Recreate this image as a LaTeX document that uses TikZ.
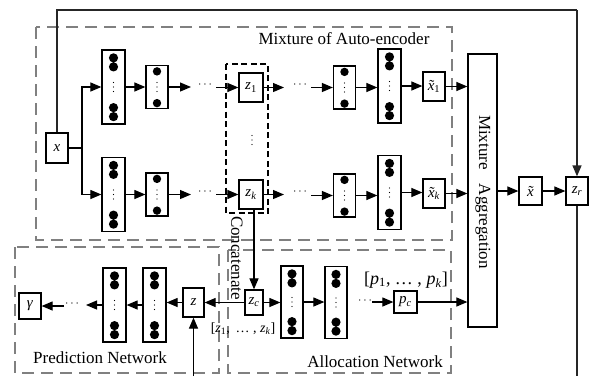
\documentclass[tikz,border=0pt]{standalone}
\usepackage{fontspec}
\setmainfont{Liberation Serif}
\usetikzlibrary{arrows.meta}
\newcommand{\vdt}[1]{\fill (#1) ++(0,-4.5) circle (0.7pt) (#1) circle (0.7pt) (#1) ++(0,4.5) circle (0.7pt);}
\newcommand{\bigdots}[1]{\fill ([yshift=-8.5pt]#1.north) circle (4.6pt) ([yshift=-17.5pt]#1.north) circle (4.6pt) ([yshift=8pt]#1.south) circle (4.6pt) ([yshift=17pt]#1.south) circle (4.6pt); \vdt{#1}}
\newcommand{\smalldots}[1]{\fill ([yshift=-6.5pt]#1.north) circle (4.2pt) ([yshift=6pt]#1.south) circle (4.2pt); \vdt{#1}}
\newcommand{\iv}[1]{\textit{#1}}
\newcommand{\sbs}[1]{\textsubscript{#1}}
\newcommand{\tx}{\makebox[0pt][l]{\kern0.1em\char"02DC}\iv{x}}
\begin{document}
\begin{tikzpicture}[x=1pt,y=-1pt,
 box/.style={draw, line width=1.25pt, inner sep=0pt, fill=white},
 big/.style={box, minimum width=23pt, minimum height=74pt},
 small/.style={box, minimum width=22pt, minimum height=43pt},
 lbox/.style={box, minimum width=23pt, minimum height=29pt, font=\fontsize{15}{15}\selectfont},
 arr/.style={line width=1.2pt, -{Triangle[length=11pt,width=9pt]}},
 ln/.style={line width=1.2pt},
 grayd/.style={draw=black!50, line width=1.2pt, dash pattern=on 12pt off 7pt},
 blkd/.style={draw, line width=1.2pt, dash pattern=on 6pt off 3.5pt},
 txt/.style={font=\fontsize{17}{17}\selectfont, inner sep=0pt},
 dts/.style={font=\fontsize{13}{13}\selectfont, inner sep=0pt}]
\useasboundingbox (0,0) rectangle (592,376);

% dashed group boxes
\draw[grayd] (36,27) rectangle (452,240);
\draw[grayd] (15,247) rectangle (219,373);
\draw[grayd] (228,250) rectangle (451,373);
\draw[blkd] (226,64) rectangle (268,213);

\node[txt] (mtitle) at (344,39) {Mixture of Auto-encoder};
\node[txt] (ptitle) at (100,358) {Prediction Network};
\node[txt] (atitle) at (375,362) {Allocation Network};

% nodes
\node[lbox, minimum width=22pt, minimum height=30pt] (x) at (57,148) {\iv{x}};
\node[big] (e1a) at (113.5,87) {};
\node[small] (e1b) at (157,87) {};
\node[big] (e2a) at (113.5,194.5) {};
\node[small] (e2b) at (157,194.5) {};
\node[lbox, minimum width=24pt] (z1) at (251,87.5) {\iv{z}\sbs{1}};
\node[lbox, minimum width=24pt] (zk) at (251,194.5) {\iv{z}\sbs{\iv{k}}};
\node[small] (d1a) at (344.5,87.5) {};
\node[big] (d1b) at (389.5,86) {};
\node[small] (d2a) at (344.5,195.5) {};
\node[big] (d2b) at (389.5,192.5) {};
\node[lbox, minimum width=22pt] (xt1) at (434,86.5) {\tx\sbs{1}};
\node[lbox, minimum width=22pt] (xtk) at (434,193.5) {\tx\sbs{\iv{k}}};
\node[box, minimum width=29pt, minimum height=273pt] (agg) at (482.5,190.5) {};
\node[txt, rotate=-90] (aggt) at (483,192) {Mixture\hspace{14pt}Aggregation};
\node[lbox, minimum width=23pt, minimum height=28pt] (xh) at (530.5,191) {\tx};
\node[lbox, minimum width=22pt, minimum height=28pt] (zr) at (577,191) {\iv{z}\sbs{\iv{r}}};

\node[lbox, minimum width=18pt, minimum height=25pt] (zc) at (254,302.5) {\iv{z}\sbs{\iv{c}}};
\node[lbox, minimum width=21pt, minimum height=29pt] (z) at (193.5,302.5) {\iv{z}};
\node[big, minimum width=22pt, minimum height=72pt] (a1) at (292,302) {};
\node[big, minimum width=22pt, minimum height=72pt] (a2) at (336,302.5) {};
\node[lbox, minimum width=23pt, minimum height=22pt] (pc) at (405.5,302) {\iv{p}\sbs{\iv{c}}};
\node[big] (p1) at (154.5,305) {};
\node[big] (p2) at (114.5,305) {};
\node[lbox, minimum width=22pt, minimum height=26pt] (g) at (30,306) {\iv{γ}};

\node[txt, rotate=-90] (conc) at (237,258) {Concatenate};
\node[font=\fontsize{18}{18}\selectfont, inner sep=0pt] (plist) at (406,280) {[\iv{p}\sbs{1}, \dots\ , \iv{p}\sbs{\iv{k}}]};
\node[font=\fontsize{14}{14}\selectfont, inner sep=0pt] (zlist) at (243,329) {[\iv{z}\sbs{1}, \,\dots\ , \iv{z}\sbs{\iv{k}}]};

% dots in boxes
\bigdots{e1a} \bigdots{e2a} \bigdots{d1b} \bigdots{d2b}
\bigdots{a1} \bigdots{a2} \bigdots{p1} \bigdots{p2}
\smalldots{e1b} \smalldots{e2b} \smalldots{d1a} \smalldots{d2a}
\vdt{252,140}

% ellipsis nodes
\node[dts] (q1) at (205,85) {$\cdots$};
\node[dts] (q2) at (300,85) {$\cdots$};
\node[dts] (q3) at (205,192) {$\cdots$};
\node[dts] (q4) at (300,192) {$\cdots$};
\node[dts] (q5) at (365,301) {$\cdots$};
\node[dts] (q6) at (72,304) {$\cdots$};

% coordinates
\coordinate (tr) at (577,10);
\coordinate (br) at (82,148);
\coordinate (zrb) at (577,376);
\coordinate (zb) at (193.5,376);
\coordinate (cA) at (191,0);
\coordinate (cB) at (216,0);
\coordinate (cC) at (284,0);
\coordinate (cD) at (311,0);
\coordinate (cE) at (372,0);
\coordinate (cF) at (86,0);
\coordinate (cG) at (64,0);

% connectors
\draw[ln, draw=black!85, line width=1.4pt] (x.north) |- (tr);
\draw[arr, draw=black!85, line width=1.4pt] (tr) -- (zr.north);
\draw[ln] (x.east) -- (br);
\draw[arr] (br) |- (e1a.west);
\draw[arr] (br) |- (e2a.west);
% row 1
\draw[arr] (e1a.east) -- (e1a.east -| e1b.west);
\draw[arr] (e1b.east) -- (e1b.east -| cA);
\draw[arr] (z1.west -| cB) -- (z1.west);
\draw[arr] (z1.east) -- (z1.east -| cC);
\draw[arr] (d1a.west -| cD) -- (d1a.west);
\draw[arr] (d1a.east) -- (d1a.east -| d1b.west);
\draw[arr] (d1b.east) -- (d1b.east -| xt1.west);
\draw[arr] (xt1.east) -- (xt1.east -| agg.west);
% row 2
\draw[arr] (e2a.east) -- (e2a.east -| e2b.west);
\draw[arr] (e2b.east) -- (e2b.east -| cA);
\draw[arr] (zk.west -| cB) -- (zk.west);
\draw[arr] (zk.east) -- (zk.east -| cC);
\draw[arr] (d2a.west -| cD) -- (d2a.west);
\draw[arr] (d2a.east) -- (d2a.east -| d2b.west);
\draw[arr] (d2b.east) -- (d2b.east -| xtk.west);
\draw[arr] (xtk.east) -- (xtk.east -| agg.west);
% right
\draw[arr] (xh.west -| agg.east) -- (xh.west);
\draw[arr] (xh.east) -- (zr.west);
\draw[ln, draw=black!85, line width=1.4pt] (zr.south) -- (zrb);
% concatenate and allocation
\draw[arr] (zc.north |- zk.south) -- (zc.north);
\draw[arr] (zc.west) -- (zc.west -| z.east);
\draw[arr] (zc.east) -- (zc.east -| a1.west);
\draw[arr] (a1.east) -- (a1.east -| a2.west);
\draw[arr] (pc.west -| cE) -- (pc.west);
\draw[arr] (pc.east) -- (pc.east -| agg.west);
% prediction
\draw[arr] (z.west) -- (z.west -| p1.east);
\draw[arr] (p1.west) -- (p1.west -| p2.east);
\draw[arr] (p2.west) -- (p2.west -| cF);
\draw[arr] (g.east -| cG) -- (g.east);
\draw[arr] (zb) -- (z.south);
\end{tikzpicture}
\end{document}
